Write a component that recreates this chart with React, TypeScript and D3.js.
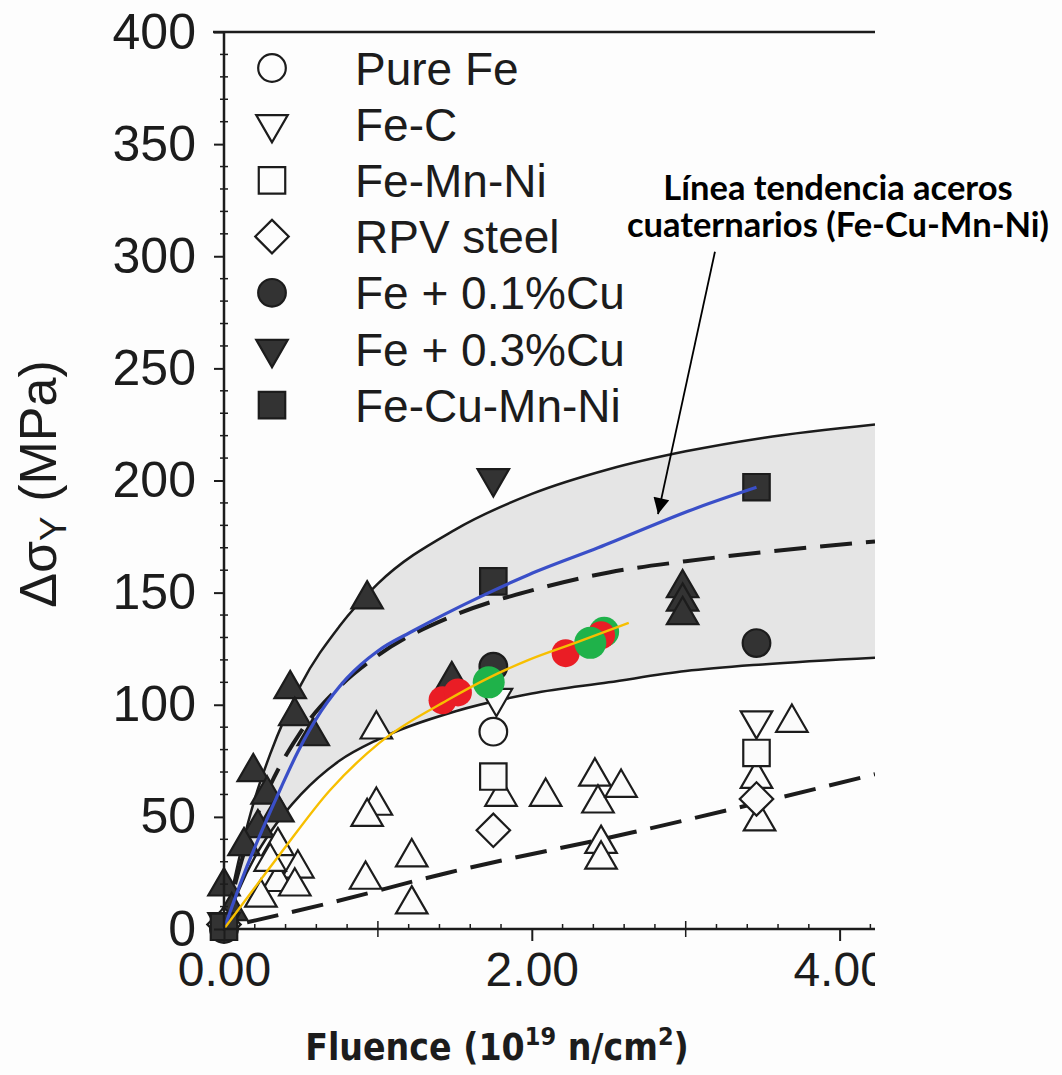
import React, { useRef, useEffect } from 'react';
import * as d3 from 'd3';

type Pt = [number, number];

// axes
const yTicks = [0, 50, 100, 150, 200, 250, 300, 350, 400];
const yMinorTicks = d3.range(0, 401, 10).filter(v => v % 50 !== 0);
const xTicks = [0, 2, 4];
const xMinorTicks = d3.range(0.2, 4.21, 0.2).filter(v => Math.abs(v - 2) > 0.01 && Math.abs(v - 4) > 0.01);

// legend
const legendLabels = ['Pure Fe', 'Fe-C', 'Fe-Mn-Ni', 'RPV steel', 'Fe + 0.1%Cu', 'Fe + 0.3%Cu', 'Fe-Cu-Mn-Ni'];
const legendShapes = ['circle', 'triDown', 'square', 'diamond', 'circle', 'triDown', 'square'];
const legendFilled = [false, false, false, false, true, true, true];

// measured series (fluence 1e19 n/cm2, delta sigma MPa)
const pureFe: Pt[] = [[1.75, 88], [0, 1]];
const feC: Pt[] = [[1.77, 103], [3.46, 93]];
const feMnNi: Pt[] = [[1.75, 68], [3.46, 78.5]];
const rpvSteel: Pt[] = [[1.75, 44], [3.46, 58], [0, 2]];
const feCu01: Pt[] = [[1.75, 117], [3.46, 127.5], [0, 0]];
const feCu03: Pt[] = [[1.75, 201], [0, 3]];
const feCuMnNi: Pt[] = [[1.75, 155], [3.46, 197], [0, 1]];
const otherFilledUp: Pt[] = [
  [0.93, 147], [0.43, 107], [0.46, 95], [0.58, 86], [0.19, 70], [0.28, 60], [0.35, 52],
  [0.22, 45], [0.13, 37], [0, 19], [0.05, 8], [1.48, 111], [2.98, 152], [2.98, 146], [2.98, 140]
];
const otherOpenUp: Pt[] = [
  [0.99, 89], [0.99, 55], [0.93, 50], [1.22, 32], [0.92, 22], [1.22, 11], [1.8, 59], [2.09, 59],
  [2.41, 68], [2.43, 56], [2.58, 63], [2.45, 38], [2.45, 31], [3.69, 92], [3.48, 48], [3.46, 67],
  [0.35, 37], [0.48, 27], [0.35, 21], [0.46, 19], [0.24, 14], [0.3, 30]
];

// band curves
const bandFluence = [0, 0.1, 0.2, 0.3, 0.5, 0.75, 1.0, 1.5, 2.0, 2.5, 3.0, 3.5, 4.23];
const bandUpper = [0, 32, 58, 78, 109, 135, 154, 178, 194, 205, 213, 219, 225];
const bandLower = [0, 18, 32, 43, 60, 75, 84.5, 97, 105, 110, 115, 118, 121];
const bandMiddle = [0, 27, 48, 64, 88, 108, 122, 140, 151, 159, 164, 168, 172.8];
const lowerDashed: Pt[] = [[0.15, 3], [0.65, 11], [1.45, 25], [2.65, 43], [4.23, 69]];

// added trend lines and points
const blueTrend: Pt[] = [
  [0, 0], [0.15, 28], [0.26, 46], [0.37, 63], [0.48, 79], [0.63, 97], [0.8, 112], [1.0, 124],
  [1.23, 133], [1.66, 148], [1.98, 158], [2.43, 170], [3.08, 188], [3.46, 197]
];
const yellowTrend: Pt[] = [
  [0, 0], [0.36, 33], [0.69, 62], [1.01, 83], [1.45, 102], [1.72, 112], [1.98, 120], [2.3, 128], [2.63, 136.5]
];
const greenBackDots: Pt[] = [[2.47, 132.5]];
const redDots: Pt[] = [[1.42, 102], [1.52, 105.5], [2.22, 123], [2.45, 131]];
const greenDots: Pt[] = [[1.72, 110], [2.38, 127.6]];

const annotationLines = ['Línea tendencia aceros', 'cuaternarios (Fe-Cu-Mn-Ni)'];
const arrowFrom: Pt = [3.19, 302];
const arrowTo: Pt = [2.82, 185];

const symType: any = {
  circle: d3.symbolCircle, triUp: d3.symbolTriangle, triDown: d3.symbolTriangle,
  square: d3.symbolSquare, diamond: d3.symbolSquare
};
const symSize: any = { circle: 600, triUp: 430, triDown: 430, square: 700, diamond: 560 };
const symRot: any = { circle: 0, triUp: 0, triDown: 180, square: 0, diamond: 45 };

const App = () => {
  const svgRef = useRef<SVGSVGElement>(null);

  useEffect(() => {
    const svg = d3.select(svgRef.current);
    svg.selectAll('*').remove();

    const x = d3.scaleLinear().domain([0, 4.23]).range([224, 875]);
    const y = d3.scaleLinear().domain([0, 400]).range([929, 32]);
    const ink = '#1c1c1c';

    svg.append('rect').attr('width', 1062).attr('height', 1075).attr('fill', '#fdfdfd');

    const defs = svg.append('defs');
    defs.append('clipPath').attr('id', 'plotclip')
      .append('rect').attr('x', 0).attr('y', 0).attr('width', 875).attr('height', 1075);

    const g = svg.append('g').attr('clip-path', 'url(#plotclip)');

    // grey band
    const band = d3.area<number>()
      .x((d, i) => x(bandFluence[i]))
      .y0((d, i) => y(bandLower[i]))
      .y1(d => y(d))
      .curve(d3.curveMonotoneX);
    g.append('path').datum(bandUpper).attr('d', band).attr('fill', '#e5e5e5');

    const curveLine = d3.line<number>()
      .x((d, i) => x(bandFluence[i]))
      .y(d => y(d))
      .curve(d3.curveMonotoneX);
    [bandUpper, bandLower].forEach(arr => {
      g.append('path').datum(arr).attr('d', curveLine)
        .attr('fill', 'none').attr('stroke', ink).attr('stroke-width', 2.5);
    });
    g.append('path').datum(bandMiddle).attr('d', curveLine)
      .attr('fill', 'none').attr('stroke', ink).attr('stroke-width', 4)
      .attr('stroke-dasharray', '32 14');

    const ptLine = d3.line<Pt>().x(d => x(d[0])).y(d => y(d[1])).curve(d3.curveMonotoneX);
    g.append('path').datum(lowerDashed).attr('d', ptLine)
      .attr('fill', 'none').attr('stroke', ink).attr('stroke-width', 4)
      .attr('stroke-dasharray', '32 14');

    // axes
    const yAxis = d3.axisLeft(y).tickValues(yTicks).tickSize(10).tickSizeOuter(0).tickPadding(18);
    const ya = svg.append('g').attr('transform', 'translate(224,0)').call(yAxis);
    ya.select('.domain').remove();
    ya.selectAll('line').attr('stroke', ink).attr('stroke-width', 2);
    ya.selectAll('text').attr('font-family', '"Liberation Sans", Arial, sans-serif')
      .attr('font-size', 50).attr('fill', ink);

    const xAxis = d3.axisBottom(x).tickValues(xTicks).tickFormat(d3.format('.2f'))
      .tickSize(12).tickSizeOuter(0).tickPadding(11);
    const xa = svg.append('g').attr('transform', 'translate(0,929)').attr('clip-path', 'url(#plotclip)').call(xAxis);
    xa.select('.domain').remove();
    xa.selectAll('line').attr('stroke', ink).attr('stroke-width', 2);
    xa.selectAll('text').attr('font-family', '"Liberation Sans", Arial, sans-serif')
      .attr('font-size', 48).attr('fill', ink);

    svg.append('g').selectAll('line').data(yMinorTicks).join('line')
      .attr('x1', 220).attr('x2', 228).attr('y1', d => y(d)).attr('y2', d => y(d))
      .attr('stroke', ink).attr('stroke-width', 1.5);
    svg.append('g').selectAll('line').data(xMinorTicks).join('line')
      .attr('x1', d => x(d)).attr('x2', d => x(d))
      .attr('y1', d => (Math.abs(d % 1) < 0.01 || Math.abs(d % 1) > 0.99) ? 921 : 924)
      .attr('y2', d => (Math.abs(d % 1) < 0.01 || Math.abs(d % 1) > 0.99) ? 937 : 929)
      .attr('stroke', ink).attr('stroke-width', 1.5);

    svg.append('line').attr('x1', x(0)).attr('x2', x(0)).attr('y1', y(400)).attr('y2', y(0) + 2)
      .attr('stroke', ink).attr('stroke-width', 2.5);
    svg.append('line').attr('x1', x(0)).attr('x2', 875).attr('y1', y(0)).attr('y2', y(0))
      .attr('stroke', ink).attr('stroke-width', 2.5);
    svg.append('line').attr('x1', 213).attr('x2', 875).attr('y1', y(400)).attr('y2', y(400))
      .attr('stroke', ink).attr('stroke-width', 2.5);

    // markers
    const drawMarkers = (pts: Pt[], shape: string, filled: boolean) => {
      const sym = d3.symbol().type(symType[shape]).size(symSize[shape]);
      g.append('g').selectAll('path').data(pts).join('path')
        .attr('d', sym() as string)
        .attr('transform', d => `translate(${x(d[0])},${y(d[1])}) rotate(${symRot[shape]})`)
        .attr('fill', filled ? '#333' : '#fbfbfb')
        .attr('stroke', ink).attr('stroke-width', 2.2);
    };
    drawMarkers(otherFilledUp, 'triUp', true);
    drawMarkers(otherOpenUp, 'triUp', false);
    drawMarkers(pureFe, 'circle', false);
    drawMarkers(feC, 'triDown', false);
    drawMarkers(feMnNi, 'square', false);
    drawMarkers(rpvSteel, 'diamond', false);
    drawMarkers(feCu01, 'circle', true);
    drawMarkers(feCu03, 'triDown', true);
    drawMarkers(feCuMnNi, 'square', true);

    // coloured points
    const dots = (pts: Pt[], color: string, r: number) => {
      g.append('g').selectAll('circle').data(pts).join('circle')
        .attr('cx', d => x(d[0])).attr('cy', d => y(d[1])).attr('r', r).attr('fill', color);
    };
    dots(greenBackDots, '#1fb24a', 15);
    dots(redDots, '#ea1d25', 14);
    dots(greenDots, '#1fb24a', 16);

    g.append('path').datum(blueTrend).attr('d', ptLine)
      .attr('fill', 'none').attr('stroke', '#3a4fc8').attr('stroke-width', 3.2);
    g.append('path').datum(yellowTrend).attr('d', ptLine)
      .attr('fill', 'none').attr('stroke', '#f7bf00').attr('stroke-width', 2.4);

    // legend
    const lg = svg.append('g');
    legendLabels.forEach((lab, i) => {
      const ly = 68 + i * 56.2;
      const shape = legendShapes[i];
      const sym = d3.symbol().type(symType[shape]).size(symSize[shape]);
      lg.append('path').attr('d', sym() as string)
        .attr('transform', `translate(272,${ly}) rotate(${symRot[shape]})`)
        .attr('fill', legendFilled[i] ? '#333' : 'none')
        .attr('stroke', ink).attr('stroke-width', 2.2);
      lg.append('text').attr('x', 355).attr('y', ly).attr('dy', '0.36em')
        .attr('font-family', '"Liberation Sans", Arial, sans-serif').attr('font-size', 46)
        .attr('fill', ink).text(lab);
    });

    // y label
    const yl = svg.append('text')
      .attr('transform', 'translate(56,484) rotate(-90)')
      .attr('text-anchor', 'middle')
      .attr('font-family', '"Liberation Sans", Arial, sans-serif').attr('font-size', 52)
      .attr('fill', ink);
    yl.append('tspan').text('Δσ');
    yl.append('tspan').attr('font-size', 37).attr('dy', 10).text('Y');
    yl.append('tspan').attr('dy', -10).text(' (MPa)');

    // x label
    const xl = svg.append('text')
      .attr('x', 497).attr('y', 1060).attr('text-anchor', 'middle')
      .attr('font-family', '"DejaVu Sans Condensed", "DejaVu Sans", sans-serif')
      .attr('font-stretch', 'condensed').attr('font-weight', 'bold').attr('font-size', 37)
      .attr('fill', ink);
    xl.append('tspan').text('Fluence (10');
    xl.append('tspan').attr('font-size', 25).attr('dy', -15).text('19');
    xl.append('tspan').attr('dy', 15).text(' n/cm');
    xl.append('tspan').attr('font-size', 25).attr('dy', -15).text('2');
    xl.append('tspan').attr('dy', 15).text(')');

    // annotation
    annotationLines.forEach((t, i) => {
      svg.append('text').attr('x', 838).attr('y', 200 + i * 37)
        .attr('text-anchor', 'middle')
        .attr('font-family', 'Lato, "Open Sans", sans-serif').attr('font-weight', 'bold')
        .attr('font-size', 34.5).attr('fill', '#000')
        .text(t);
    });
    defs.append('marker').attr('id', 'arrowhead').attr('viewBox', '0 0 10 10')
      .attr('refX', 10).attr('refY', 5).attr('markerWidth', 24).attr('markerHeight', 16)
      .attr('markerUnits', 'userSpaceOnUse').attr('orient', 'auto')
      .append('path').attr('d', 'M0,0 L10,5 L0,10 z').attr('fill', '#000');
    svg.append('line')
      .attr('x1', x(arrowFrom[0])).attr('y1', y(arrowFrom[1]))
      .attr('x2', x(arrowTo[0])).attr('y2', y(arrowTo[1]))
      .attr('stroke', '#000').attr('stroke-width', 1.8)
      .attr('marker-end', 'url(#arrowhead)');
  }, []);

  return (
    <div style={{ position: 'absolute', left: 0, top: 0 }}>
      <svg ref={svgRef} width={1062} height={1075}></svg>
    </div>
  );
};

export default App;
